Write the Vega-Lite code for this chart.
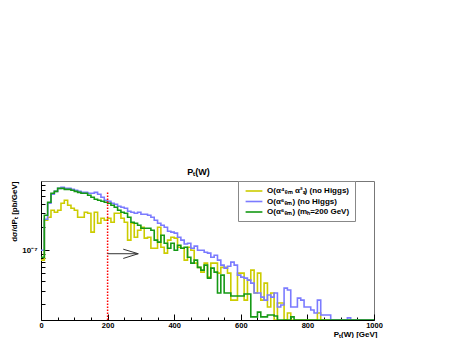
{
"$schema": "https://vega.github.io/schema/vega-lite/v6.json",
"width": 333, "height": 139,
"autosize": {"type": "none"},
"padding": {"left": 41, "top": 181, "right": 78, "bottom": 18},
"background": "white",
"config": {"view": {"stroke": "#777", "strokeWidth": 1}, "font": "Liberation Sans"},
"title": {"text": "Pₜ(W)", "fontSize": 9, "fontWeight": "bold", "font": "Liberation Sans", "color": "black", "offset": 4, "dx": -9, "anchor": "middle"},
"datasets": {
"hist": [
{"x":0,"a":7.43e-8,"b":1.0e-7,"c":8.1e-8},
{"x":10,"a":2.44e-7,"b":2.51e-7,"c":2.83e-7},
{"x":20,"a":2.67e-7,"b":4.04e-7,"c":4.16e-7},
{"x":30,"a":3.28e-7,"b":5.28e-7,"c":5.44e-7},
{"x":40,"a":3.09e-7,"b":5.77e-7,"c":5.77e-7},
{"x":50,"a":3.28e-7,"b":6.31e-7,"c":6.31e-7},
{"x":60,"a":4.04e-7,"b":6.5e-7,"c":6.31e-7},
{"x":70,"a":4.42e-7,"b":6.31e-7,"c":6.12e-7},
{"x":80,"a":3.81e-7,"b":6.31e-7,"c":6.12e-7},
{"x":90,"a":3.48e-7,"b":6.12e-7,"c":5.95e-7},
{"x":100,"a":3.28e-7,"b":5.95e-7,"c":5.77e-7},
{"x":110,"a":2.67e-7,"b":5.77e-7,"c":5.6e-7},
{"x":120,"a":2.67e-7,"b":5.6e-7,"c":5.44e-7},
{"x":130,"a":3.09e-7,"b":5.6e-7,"c":5.44e-7},
{"x":140,"a":3.0e-7,"b":5.44e-7,"c":5.13e-7},
{"x":150,"a":1.71e-7,"b":5.44e-7,"c":4.83e-7},
{"x":160,"a":3.09e-7,"b":5.6e-7,"c":4.55e-7},
{"x":170,"a":2.23e-7,"b":5.28e-7,"c":4.42e-7},
{"x":180,"a":2.59e-7,"b":4.83e-7,"c":4.29e-7},
{"x":190,"a":2.44e-7,"b":4.42e-7,"c":4.16e-7},
{"x":200,"a":2.59e-7,"b":4.29e-7,"c":4.04e-7},
{"x":210,"a":2.3e-7,"b":4.04e-7,"c":3.81e-7},
{"x":220,"a":3.0e-7,"b":3.92e-7,"c":3.59e-7},
{"x":230,"a":3.0e-7,"b":3.7e-7,"c":3.28e-7},
{"x":240,"a":2.59e-7,"b":3.59e-7,"c":3.09e-7},
{"x":250,"a":2.3e-7,"b":3.48e-7,"c":3.0e-7},
{"x":260,"a":1.35e-7,"b":3.19e-7,"c":2.67e-7},
{"x":270,"a":2.23e-7,"b":3.09e-7,"c":2.3e-7},
{"x":280,"a":1.47e-7,"b":3.0e-7,"c":2.23e-7},
{"x":290,"a":1.81e-7,"b":3.09e-7,"c":2.1e-7},
{"x":300,"a":1.98e-7,"b":2.91e-7,"c":1.92e-7},
{"x":310,"a":1.43e-7,"b":2.91e-7,"c":1.92e-7},
{"x":320,"a":1.47e-7,"b":2.83e-7,"c":1.92e-7},
{"x":330,"a":1.06e-7,"b":2.67e-7,"c":1.81e-7},
{"x":340,"a":1.06e-7,"b":2.44e-7,"c":1.35e-7},
{"x":350,"a":1.98e-7,"b":2.23e-7,"c":1.27e-7},
{"x":360,"a":1.09e-7,"b":2.1e-7,"c":1.56e-7},
{"x":370,"a":9.15e-8,"b":1.98e-7,"c":1.23e-7},
{"x":380,"a":1.35e-7,"b":1.76e-7,"c":1.06e-7},
{"x":390,"a":1.47e-7,"b":1.71e-7,"c":1.23e-7},
{"x":400,"a":1.43e-7,"b":1.66e-7,"c":1.0e-7},
{"x":410,"a":1.09e-7,"b":1.47e-7,"c":1.16e-7},
{"x":420,"a":1.06e-7,"b":1.35e-7,"c":1.06e-7},
{"x":430,"a":7.43e-8,"b":1.2e-7,"c":1.09e-7},
{"x":440,"a":1.09e-7,"b":1.23e-7,"c":8.1e-8},
{"x":450,"a":1.0e-7,"b":1.06e-7,"c":6.8e-8},
{"x":460,"a":6.8e-8,"b":1.13e-7,"c":7.43e-8},
{"x":470,"a":6.0e-8,"b":1.0e-7,"c":6.0e-8},
{"x":480,"a":5.2e-8,"b":1.0e-7,"c":5.52e-8},
{"x":490,"a":6.8e-8,"b":9.4e-8,"c":6.4e-8},
{"x":500,"a":4.48e-8,"b":9.15e-8,"c":4.35e-8},
{"x":510,"a":6.8e-8,"b":8.1e-8,"c":5.86e-8},
{"x":520,"a":6.8e-8,"b":8.6e-8,"c":5.2e-8},
{"x":530,"a":5.05e-8,"b":7.43e-8,"c":2.79e-8},
{"x":540,"a":6.0e-8,"b":6.4e-8,"c":4.76e-8},
{"x":550,"a":6.0e-8,"b":5.86e-8,"c":2.79e-8},
{"x":560,"a":5.05e-8,"b":6.2e-8,"c":2.79e-8},
{"x":570,"a":2.26e-8,"b":7.0e-8,"c":2.55e-8},
{"x":580,"a":2.26e-8,"b":6.4e-8,"c":2.55e-8},
{"x":590,"a":5.05e-8,"b":4.76e-8,"c":2.55e-8},
{"x":600,"a":5.05e-8,"b":4.48e-8,"c":2.55e-8},
{"x":610,"a":2.26e-8,"b":4.35e-8,"c":2.71e-8},
{"x":620,"a":4.1e-8,"b":4.1e-8,"c":2.71e-8},
{"x":630,"a":5.52e-8,"b":3.75e-8,"c":1.37e-8},
{"x":640,"a":2.79e-8,"b":2.79e-8,"c":1.37e-8},
{"x":650,"a":5.05e-8,"b":2.79e-8,"c":1.58e-8},
{"x":660,"a":2.26e-8,"b":2.47e-8,"c":1.37e-8},
{"x":670,"a":3.75e-8,"b":2.26e-8,"c":1.37e-8},
{"x":680,"a":1.84e-8,"b":2.63e-8,"c":1.45e-8},
{"x":690,"a":2.79e-8,"b":2.47e-8,"c":1.45e-8},
{"x":700,"a":1e-9,"b":2.79e-8,"c":1.41e-8},
{"x":710,"a":2.07e-8,"b":1.84e-8,"c":1e-9},
{"x":720,"a":2.07e-8,"b":1.95e-8,"c":1e-9},
{"x":730,"a":1e-9,"b":3.23e-8,"c":1e-9},
{"x":740,"a":1.54e-8,"b":3.05e-8,"c":1e-9},
{"x":750,"a":1e-9,"b":1.84e-8,"c":1.37e-8},
{"x":760,"a":1e-9,"b":1.84e-8,"c":1e-9},
{"x":770,"a":1e-9,"b":2.4e-8,"c":1e-9},
{"x":780,"a":1e-9,"b":2.26e-8,"c":1e-9},
{"x":790,"a":1e-9,"b":1.84e-8,"c":1e-9},
{"x":800,"a":1e-9,"b":1.84e-8,"c":1e-9},
{"x":810,"a":1e-9,"b":1.68e-8,"c":1e-9},
{"x":820,"a":1e-9,"b":1.54e-8,"c":1e-9},
{"x":830,"a":1.54e-8,"b":2.26e-8,"c":1e-9},
{"x":840,"a":1e-9,"b":1.45e-8,"c":1e-9},
{"x":850,"a":1e-9,"b":1.45e-8,"c":1e-9},
{"x":860,"a":1e-9,"b":1.45e-8,"c":1e-9},
{"x":870,"a":1e-9,"b":1e-9,"c":1e-9},
{"x":880,"a":1e-9,"b":1e-9,"c":1e-9},
{"x":890,"a":1e-9,"b":1e-9,"c":1e-9},
{"x":900,"a":1e-9,"b":1e-9,"c":1e-9},
{"x":910,"a":1e-9,"b":1e-9,"c":1e-9},
{"x":920,"a":1e-9,"b":1.33e-8,"c":1e-9},
{"x":930,"a":1e-9,"b":1e-9,"c":1e-9},
{"x":940,"a":1e-9,"b":1e-9,"c":1e-9},
{"x":950,"a":1e-9,"b":1e-9,"c":1e-9},
{"x":960,"a":1e-9,"b":1e-9,"c":1e-9},
{"x":970,"a":1e-9,"b":1e-9,"c":1e-9},
{"x":980,"a":1e-9,"b":1e-9,"c":1e-9},
{"x":990,"a":1e-9,"b":1e-9,"c":1e-9},
{"x":1000,"a":1e-9,"b":1e-9,"c":1e-9}
],
"cut": [{"x":200,"y":1e-9,"y2":5.65e-7}],
"arrow": [
{"x":200,"x2":292,"y":9.0e-8,"y2":9.0e-8},
{"x":247,"x2":292,"y":1.03e-7,"y2":9.0e-8},
{"x":247,"x2":292,"y":7.82e-8,"y2":9.0e-8}
]
},
"resolve": {"axis": {"x": "independent", "y": "independent"}},
"layer": [
{
"data": {"name": "hist"},
"transform": [{"fold": ["a","b","c"], "as": ["s","v"]}],
"mark": {"type": "line", "interpolate": "step-after", "strokeWidth": 1.6, "clip": true},
"encoding": {
"x": {"field": "x", "type": "quantitative", "scale": {"domain": [0,1000], "nice": false, "zero": false},
"axis": {"orient": "bottom", "values": [0,200,400,600,800,1000], "format": "d", "tickSize": -6, "labelPadding": 7.5, "grid": false, "domainColor": "black", "tickColor": "black", "labelColor": "black", "labelFont": "Liberation Sans", "labelFontSize": 7.5, "labelFontWeight": "bold", "labelFlush": false,
"title": "Pₜ(W) [GeV]", "titleFont": "Liberation Sans", "titleFontSize": 8, "titleFontWeight": "bold", "titleColor": "black", "titleAlign": "right", "titleAnchor": "end", "titleX": 336, "titleY": 16, "titleBaseline": "alphabetic"}},
"y": {"field": "v", "type": "quantitative", "scale": {"type": "log", "domain": [1.25e-8, 7.85e-7], "nice": false, "clamp": true},
"axis": {"orient": "left", "values": [1e-7], "labelExpr": "'10⁻⁷'", "tickSize": -8, "labelPadding": 12, "grid": false, "domainColor": "black", "tickColor": "black", "labelColor": "black", "labelFont": "Liberation Sans", "labelFontSize": 8, "labelFontWeight": "bold",
"title": "dσ/dPₜ [pb/GeV]", "titleFont": "Liberation Sans", "titleFontSize": 8, "titleFontWeight": "bold", "titleColor": "black", "titleAngle": 270, "titleAlign": "right", "titleBaseline": "middle", "titleX": -27, "titleY": 0}},
"color": {"field": "s", "type": "nominal", "scale": {"domain": ["a","b","c"], "range": ["#cccc00", "#7b7bff", "#159915"]},
"legend": {"orient": "none", "legendX": 197, "legendY": 0, "title": null, "symbolType": "M-2.1,0H2.1", "symbolStrokeWidth": 1.6, "symbolSize": 64, "symbolOffset": 6, "rowPadding": 1.5, "padding": 5, "labelOffset": 8, "strokeColor": "#888", "fillColor": "white", "labelFont": "Liberation Sans", "labelFontSize": 8, "labelFontWeight": "bold", "labelColor": "black",
"labelExpr": "datum.label == 'a' ? 'O(α⁴ₑₘ α²ₛ) (no Higgs)' : datum.label == 'b' ? 'O(α⁶ₑₘ) (no Higgs)' : 'O(α⁶ₑₘ) (mₕ=200 GeV)'"}}
}
},
{
"data": {"name": "cut"},
"mark": {"type": "rule", "color": "#ff0000", "strokeWidth": 1.5, "strokeDash": [1.5,1.5], "clip": true},
"encoding": {
"x": {"field": "x", "type": "quantitative", "scale": {"domain": [0,1000], "nice": false, "zero": false},
"axis": {"orient": "bottom", "values": [50,100,150,250,300,350,450,500,550,650,700,750,850,900,950], "tickSize": -3, "labels": false, "domain": false, "grid": false, "tickColor": "black", "title": null}},
"y": {"field": "y", "type": "quantitative", "scale": {"type": "log", "domain": [1.25e-8, 7.85e-7], "nice": false, "clamp": true},
"axis": {"orient": "left", "values": [2e-8,3e-8,4e-8,5e-8,6e-8,7e-8,8e-8,9e-8,2e-7,3e-7,4e-7,5e-7,6e-7,7e-7], "tickSize": -4, "labels": false, "domain": false, "grid": false, "tickColor": "black", "title": null}},
"y2": {"field": "y2"}
}
},
{
"data": {"name": "arrow"},
"mark": {"type": "rule", "color": "#333", "strokeWidth": 1},
"encoding": {
"x": {"field": "x", "type": "quantitative", "scale": {"domain": [0,1000], "nice": false, "zero": false}, "axis": null},
"x2": {"field": "x2"},
"y": {"field": "y", "type": "quantitative", "scale": {"type": "log", "domain": [1.25e-8, 7.85e-7], "nice": false, "clamp": true}, "axis": null},
"y2": {"field": "y2"}
}
}
]
}
